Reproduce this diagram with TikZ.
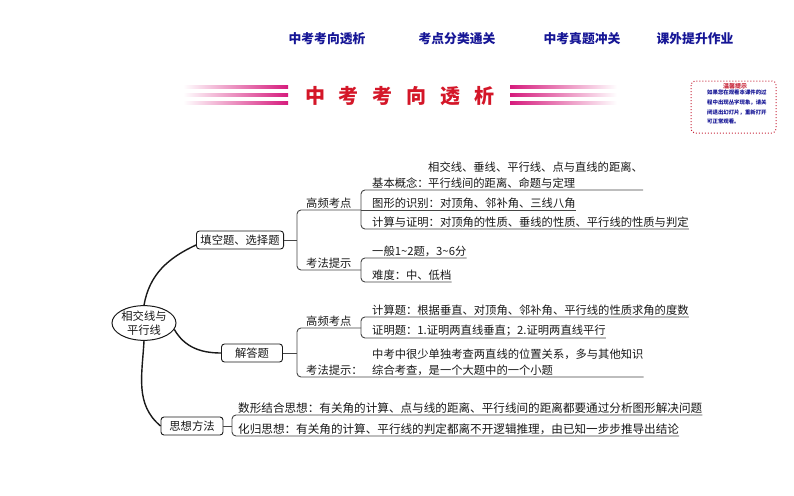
\documentclass[tikz,border=0pt]{standalone}
\usepackage{fontspec}
\usepackage{tikz}
\usetikzlibrary{shapes.geometric}
\usetikzlibrary{calc}
\newfontfamily\cjk{Noto Sans CJK SC}

\definecolor{navblue}{RGB}{22,22,150}
\definecolor{titlered}{RGB}{212,22,40}
\definecolor{stripe}{RGB}{214,28,125}
\definecolor{linec}{RGB}{70,70,70}
\definecolor{tipred}{RGB}{200,40,60}
\definecolor{txt}{RGB}{25,25,25}

\tikzset{
	nav/.style={font=\cjk\bfseries\fontsize{12.8}{14}\selectfont, text=navblue},
	titlechar/.style={font=\cjk\bfseries\fontsize{20}{22}\selectfont, text=titlered},
	root/.style={ellipse, draw=txt, line width=1pt, inner sep=0pt, align=center, text=txt,
		minimum width=64, minimum height=34, font=\cjk\fontsize{11.3}{14}\selectfont},
	topic/.style={draw=txt, rounded corners=3pt, line width=0.9pt, minimum height=18,
		inner xsep=4pt, inner ysep=0pt, text=txt, font=\cjk\fontsize{11.3}{13}\selectfont},
	leaf/.style={anchor=south west, inner xsep=0pt, inner ysep=1.5pt, align=left, text=txt,
		font=\cjk\fontsize{11.3}{16}\selectfont},
	link/.style={draw=linec, line width=0.9pt, rounded corners=4pt},
	curve/.style={draw=txt, line width=1.4pt}
}

\begin{document}
\begin{tikzpicture}[x=1pt,y=1pt]
\useasboundingbox (0,0) rectangle (794,-495);
\fill[white] (0,0) rectangle (794,-495);

% navigation bar
\node[nav] (nav1) at (327,-39) {中考考向透析};
\node[nav] (nav2) at (457,-39) {考点分类通关};
\node[nav] (nav3) at (582,-39) {中考真题冲关};
\node[nav] (nav4) at (695,-39) {课外提升作业};

% title with stripes
\foreach \c [count=\i] in {中,考,考,向,透,析}
	\node[titlechar] (t\i) at ({315+33.8*(\i-1)},-96) {\c};
\foreach \y in {87,95,103} {
	\shade[left color=white, right color=stripe] (183,-\y+1.5) rectangle (288,-\y-1.5);
	\shade[left color=stripe, right color=white] (510,-\y+1.5) rectangle (617,-\y-1.5);
}

% tip box
\draw[tipred, dotted, line width=1pt, rounded corners=4pt, fill=white] (691,-81) rectangle (776,-133);
\node[font=\cjk\bfseries\fontsize{6}{7}\selectfont, text=tipred] (tiphead) at (735,-86) {温馨提示};
\node[anchor=north west, inner sep=0pt, align=left, text=navblue,
	font=\cjk\bfseries\fontsize{5.4}{9.7}\selectfont] (tiptext) at (707,-90)
	{如果您在观看本课件的过\\程中出现丛字现象，请关\\闭退出幻灯片，重新打开\\可正常观看。};

% mind map
\node[root] (root) at (144,-323) {相交线与\\平行线};
\node[topic] (fill) at (240,-240) {填空题、选择题};
\node[topic, minimum width=61] (solve) at (252,-353) {解答题};
\node[topic, minimum width=62] (idea) at (192,-426) {思想方法};

\draw[curve] (root.north) to[out=80,in=205] ([yshift=-5pt]fill.west);
\draw[curve] (root.-12) to[out=-60,in=180] (solve.west);
\draw[curve] (root.south) to[out=-93,in=140] (idea.west);

% 填空题、选择题
\node[leaf] (f1) at (306,-210) {高频考点};
\node[leaf] (f2) at (306,-270) {考法提示};
\node[leaf] (g0) at (372,-190) {基本概念：};
\node[leaf] (g1) at (428,-190) {相交线、垂线、平行线、点与直线的距离、\\平行线间的距离、命题与定理};
\node[leaf] (g2) at (372,-210) {图形的识别：对顶角、邻补角、三线八角};
\node[leaf] (g3) at (372,-229) {计算与证明：对顶角的性质、垂线的性质、平行线的性质与判定};
\node[leaf] (h1) at (372,-258) {一般1\textasciitilde2题，3\textasciitilde6分};
\node[leaf] (h2) at (372,-282) {难度：中、低档};

\coordinate (a1) at (297,-240);
\coordinate (a2) at (361,-210);
\coordinate (a3) at (361,-270);
\draw[link] (fill.east) -- (a1);
\draw[link] (a2) -| (a1) |- (a3);
\draw[link] (g1.south east) -| (a2) |- (g3.south east);
\draw[link] (a2) -- (g2.south east);
\draw[link] (h1.south east) -| (a3) |- (h2.south east);

% 解答题
\node[leaf] (s1) at (306,-328) {高频考点};
\node[leaf] (s2) at (306,-377) {考法提示：};
\node[leaf] (p1) at (372,-317) {计算题：根据垂直、对顶角、邻补角、平行线的性质求角的度数};
\node[leaf] (p2) at (372,-338) {证明题：1.证明两直线垂直；2.证明两直线平行};
\node[leaf] (p3) at (372,-377) {中考中很少单独考查两直线的位置关系，多与其他知识\\综合考查，是一个大题中的一个小题};

\coordinate (c1) at (297,-353);
\coordinate (c2) at (361,-328);
\draw[link] (solve.east) -- (c1);
\draw[link] (c2) -| (c1) |- (p3.south east);
\draw[link] (p1.south east) -| (c2) |- (p2.south east);

% 思想方法
\node[leaf, font=\cjk\fontsize{11.6}{16}\selectfont] (q1) at (238,-415) {数形结合思想：有关角的计算、点与线的距离、平行线间的距离都要通过分析图形解决问题};
\node[leaf, font=\cjk\fontsize{11.6}{16}\selectfont] (q2) at (238,-436) {化归思想：有关角的计算、平行线的判定都离不开逻辑推理，由已知一步步推导出结论};

\coordinate (d1) at (232,-426);
\draw[link] (idea.east) -- (d1);
\draw[link] (q1.south east) -| (d1) |- (q2.south east);
\end{tikzpicture}
\end{document}
